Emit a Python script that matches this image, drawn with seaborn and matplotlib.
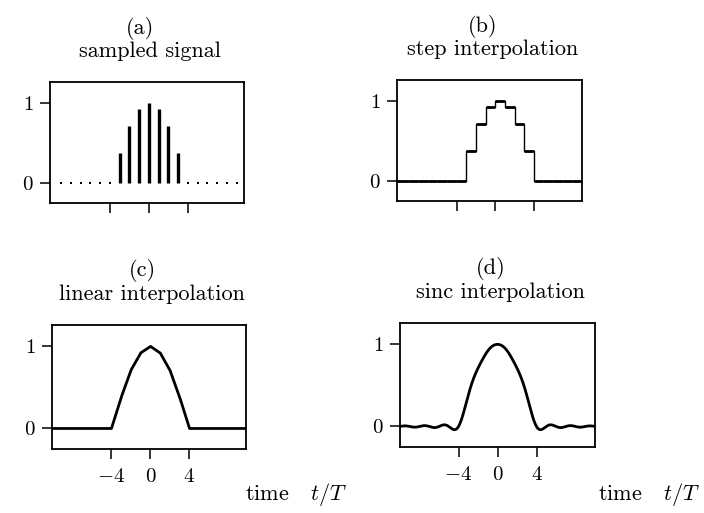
import numpy as np
import pandas as pd
import matplotlib
matplotlib.use("Agg")
import matplotlib.pyplot as plt
import seaborn as sns

# Sample instants (in units of T) and sample values
sample_times = [-9, -8, -7, -6, -5, -4, -3, -2, -1, 0, 1, 2, 3, 4, 5, 6, 7, 8, 9]
sample_values = [0, 0, 0, 0, 0, 0, 0.38, 0.71, 0.92, 1.0, 0.92, 0.71, 0.38, 0, 0, 0, 0, 0, 0]

panel_letters = ["(a)", "(b)", "(c)", "(d)"]
panel_titles = ["sampled signal", "step interpolation", "linear interpolation", "sinc interpolation"]
x_ticks = [-4, 0, 4]
x_tick_labels = ["$-4$", "$0$", "$4$"]
y_ticks = [0, 1]
y_tick_labels = ["$0$", "$1$"]
x_label = "time   $t/T$"

sns.set_theme(style="ticks")
plt.rcParams["font.family"] = ["cmr10", "DejaVu Serif"]
plt.rcParams["mathtext.fontset"] = "cm"
plt.rcParams["axes.unicode_minus"] = False

W, H = 704, 513
fig = plt.figure(figsize=(W / 100, H / 100), dpi=100)

# axes boxes in pixel coordinates: left, top, right, bottom
boxes = [(50, 82, 244, 203), (397, 80, 582, 201), (52, 325, 246, 449), (400, 323, 595, 447)]
xlims = [(-10.15, 9.75), (-10.2, 9.0), (-10.1, 9.8), (-10.0, 10.0)]
ylim = (-0.25, 1.26)

axes = []
for (l, t, r, b) in boxes:
    ax = fig.add_axes([l / W, 1 - b / H, (r - l) / W, (b - t) / H])
    axes.append(ax)

t = np.array(sample_times, dtype=float)
v = np.array(sample_values, dtype=float)
dense = np.linspace(-10.5, 10.5, 2101)
ink = "black"

# (a) sampled signal: stems for nonzero samples, dots for zero samples
ax = axes[0]
nz = v != 0
ax.vlines(t[nz], 0, v[nz], color=ink, lw=2.4)
zeros = pd.DataFrame({"t": t[~nz], "v": v[~nz]})
sns.scatterplot(data=zeros, x="t", y="v", ax=ax, marker="s", s=3, color=ink, linewidth=0)

# (b) step (zero-order hold) interpolation
ax = axes[1]
hold_t = np.concatenate([[-10.5], t, [t[-1] + 1, 10.5]])
hold_v = np.concatenate([[0.0], v, [0.0, 0.0]])
steps = pd.DataFrame({"t": hold_t, "v": hold_v})
sns.lineplot(data=steps, x="t", y="v", ax=ax, color=ink, lw=1.0, drawstyle="steps-post")
ax.hlines(hold_v[:-1], hold_t[:-1], hold_t[1:], color=ink, lw=2.0)

# (c) linear interpolation between samples
ax = axes[2]
ext_t = np.concatenate([[-10.5], t, [10.5]])
ext_v = np.concatenate([[0.0], v, [0.0]])
lin = pd.DataFrame({"t": dense, "v": np.interp(dense, ext_t, ext_v)})
sns.lineplot(data=lin, x="t", y="v", ax=ax, color=ink, lw=2.0)

# (d) ideal (sinc) interpolation of the samples
ax = axes[3]
sinc_v = (v[None, :] * np.sinc(dense[:, None] - t[None, :])).sum(axis=1)
sinc_df = pd.DataFrame({"t": dense, "v": sinc_v})
sns.lineplot(data=sinc_df, x="t", y="v", ax=ax, color=ink, lw=2.0)

fs_tick = 15
fs_title = 16
for i, ax in enumerate(axes):
    ax.set_xlim(*xlims[i])
    ax.set_ylim(*ylim)
    ax.set_xlabel("")
    ax.set_ylabel("")
    ax.set_yticks(y_ticks)
    ax.set_yticklabels(y_tick_labels, fontsize=fs_tick)
    ax.set_xticks(x_ticks)
    if i >= 2:
        ax.set_xticklabels(x_tick_labels, fontsize=fs_tick)
    else:
        ax.set_xticklabels([])
    ax.tick_params(axis="both", direction="out", length=7, width=1.1,
                   color=ink, labelcolor=ink)
    ax.tick_params(axis="x", pad=7)
    ax.tick_params(axis="y", pad=5)
    for sp in ax.spines.values():
        sp.set_visible(True)
        sp.set_color(ink)
        sp.set_linewidth(1.3)
    ax.set_facecolor("white")

    l, top, r, b = boxes[i]
    cx = (l + r) / 2
    fig.text((cx - 7) / W, 1 - (top - 54) / H, panel_letters[i], fontsize=fs_title,
             ha="center", va="center", color=ink)
    fig.text((cx + 3) / W, 1 - (top - 31) / H, panel_titles[i], fontsize=fs_title,
             ha="center", va="center", color=ink)

fig.text(347 / W, 1 - 495 / H, x_label, fontsize=fs_title, ha="right", va="center", color=ink)
fig.text(700 / W, 1 - 495 / H, x_label, fontsize=fs_title, ha="right", va="center", color=ink)

fig.savefig("out.png", dpi=100, facecolor="white")
